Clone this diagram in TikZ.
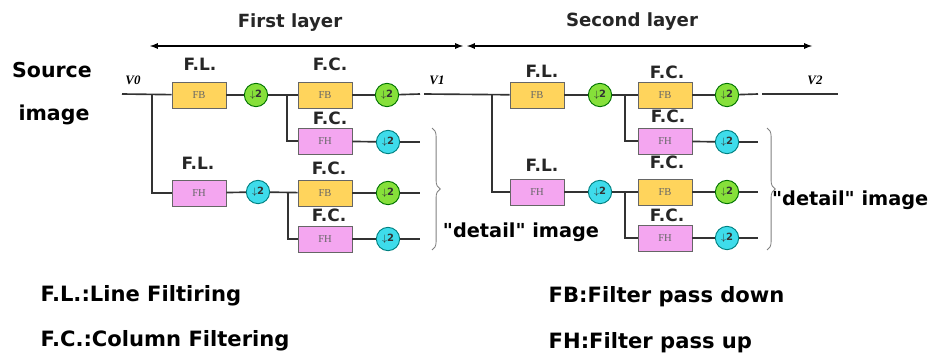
\documentclass[tikz,border=0pt]{standalone}
\usepackage{fontspec}
\setmainfont{DejaVu Sans}
\newfontfamily\boxfont{Liberation Serif}
\newfontfamily\qfont{DejaVu Sans}
\usetikzlibrary{decorations.pathreplacing}

\definecolor{fbfill}{HTML}{FFD45C}
\definecolor{fhfill}{HTML}{F4A6F0}
\definecolor{grnfill}{HTML}{86E03A}
\definecolor{cynfill}{HTML}{3EDCEB}
\definecolor{wire}{HTML}{333333}

\begin{document}
\begin{tikzpicture}[x=0.03cm, y=-0.03cm, line width=1.4pt,
  fb/.style={draw=gray!80!black, line width=0.8pt, fill=fbfill, minimum width=1.62cm,
    minimum height=0.78cm, inner sep=0pt, font=\boxfont\fontsize{9}{10}\selectfont, text=black!60},
  fh/.style={fb, fill=fhfill},
  dsg/.style={circle, draw=green!45!black, line width=0.8pt, fill=grnfill, minimum size=0.7cm,
    inner sep=0pt, font=\bfseries\fontsize{8.5}{9}\selectfont, text=black!80},
  dsc/.style={dsg, draw=teal, fill=cynfill},
  wl/.style={line width=1.4pt, draw=wire},
  lbl/.style={font=\bfseries\fontsize{14.5}{16}\selectfont, text=black!85},
  ttl/.style={font=\bfseries\fontsize{15.5}{17}\selectfont, text=black!85},
  vlbl/.style={font=\boxfont\bfseries\itshape\fontsize{11}{12}\selectfont},
  big/.style={font=\bfseries\fontsize{17.5}{19}\selectfont},
  det/.style={font=\qfont\bfseries\fontsize{16.5}{18}\selectfont},
  leg/.style={font=\bfseries\fontsize{18}{20}\selectfont, anchor=west}]
  \useasboundingbox (0,0) rectangle (935,358);

  % layer arrows
  \node[ttl] (t1) at (290,23) {First layer};
  \node[ttl] (t2) at (632,22) {Second layer};
  \coordinate (l1a) at (150,46); \coordinate (l1b) at (463,46);
  \coordinate (l2a) at (467,46); \coordinate (l2b) at (812,46);
  \draw[<->, >=latex, line width=1.3pt] (l1a) -- (l1b);
  \draw[<->, >=latex, line width=1.3pt] (l2a) -- (l2b);

  \node[big] (src) at (52,70) {Source};
  \node[big] (img) at (54,115) {image};

  % first layer
  \coordinate (v0) at (122,94);
  \coordinate (s1) at (152,94);
  \node[vlbl] (v0t) at (133,80) {V0};
  \node[fb] (fl1) at (199,95) {FB};
  \node[dsg] (d1) at (256,95) {$\downarrow$2};
  \node[fh] (fl2) at (199,193) {FH};
  \node[dsc] (d2) at (258,192) {$\downarrow$2};
  \coordinate (s2) at (287,94);
  \coordinate (s3) at (288,192);
  \node[fb] (fc1) at (325,95) {FB};
  \node[dsg] (d3) at (387,95) {$\downarrow$2};
  \node[fh] (fc2) at (325,141) {FH};
  \node[dsc] (d4) at (388,142) {$\downarrow$2};
  \node[fb] (fc3) at (325,193) {FB};
  \node[dsg] (d5) at (388,193) {$\downarrow$2};
  \node[fh] (fc4) at (325,239) {FH};
  \node[dsc] (d6) at (388,239) {$\downarrow$2};
  \coordinate (e3) at (420,94); \coordinate (e4) at (420,142);
  \coordinate (e5) at (420,193); \coordinate (e6) at (420,239);
  \node[vlbl] (v1t) at (437,80) {V1};
  \coordinate (m1) at (424,94);

  \node[lbl] (ll1) at (200,64) {F.L.};
  \node[lbl] (ll2) at (198,163) {F.L.};
  \node[lbl] (lc1) at (330,64) {F.C.};
  \node[lbl] (lc2) at (330,118) {F.C.};
  \node[lbl] (lc3) at (329,168) {F.C.};
  \node[lbl] (lc4) at (329,215) {F.C.};

  \draw[wl] (v0) -- (fl1);
  \draw[wl] (s1) |- (fl2);
  \draw[wl] (fl1) -- (d1);
  \draw[wl] (fl2) -- (d2);
  \draw[wl] (d1) -- (fc1);
  \draw[wl] (s2) |- (fc2);
  \draw[wl] (d2) -- (fc3);
  \draw[wl] (s3) |- (fc4);
  \draw[wl] (fc1) -- (d3);
  \draw[wl] (fc2) -- (d4);
  \draw[wl] (fc3) -- (d5);
  \draw[wl] (fc4) -- (d6);
  \draw[wl] (d3) -- (e3);
  \draw[wl] (d4) -- (e4);
  \draw[wl] (d5) -- (e5);
  \draw[wl] (d6) -- (e6);

  \draw[decorate, decoration={brace, amplitude=7pt}, gray, line width=0.7pt] (432,128) -- (432,250);
  \node[det] (det1) at (521,232) {"detail" image};

  % second layer
  \coordinate (s4) at (492,94);
  \node[fb] (fl3) at (537,95) {FB};
  \node[dsg] (d7) at (600,95) {$\downarrow$2};
  \node[fh] (fl4) at (537,192) {FH};
  \node[dsc] (d8) at (600,192) {$\downarrow$2};
  \coordinate (s5) at (625,94);
  \coordinate (s6) at (625,192);
  \node[fb] (fc5) at (665,95) {FB};
  \node[dsg] (d9) at (727,95) {$\downarrow$2};
  \node[fh] (fc6) at (665,141) {FH};
  \node[dsc] (d10) at (727,142) {$\downarrow$2};
  \node[fb] (fc7) at (665,192) {FB};
  \node[dsg] (d11) at (727,192) {$\downarrow$2};
  \node[fh] (fc8) at (665,238) {FH};
  \node[dsc] (d12) at (727,238) {$\downarrow$2};
  \coordinate (e9) at (758,94); \coordinate (e10) at (758,142);
  \coordinate (e11) at (758,192); \coordinate (e12) at (758,238);
  \coordinate (m2) at (762,94); \coordinate (v2) at (838,94);
  \node[vlbl] (v2t) at (815,80) {V2};

  \node[lbl] (ll3) at (542,71) {F.L.};
  \node[lbl] (ll4) at (542,165) {F.L.};
  \node[lbl] (lc5) at (667,72) {F.C.};
  \node[lbl] (lc6) at (668,116) {F.C.};
  \node[lbl] (lc7) at (667,162) {F.C.};
  \node[lbl] (lc8) at (667,215) {F.C.};

  \draw[wl] (m1) -- (fl3);
  \draw[wl] (s4) |- (fl4);
  \draw[wl] (fl3) -- (d7);
  \draw[wl] (fl4) -- (d8);
  \draw[wl] (d7) -- (fc5);
  \draw[wl] (s5) |- (fc6);
  \draw[wl] (d8) -- (fc7);
  \draw[wl] (s6) |- (fc8);
  \draw[wl] (fc5) -- (d9);
  \draw[wl] (fc6) -- (d10);
  \draw[wl] (fc7) -- (d11);
  \draw[wl] (fc8) -- (d12);
  \draw[wl] (d9) -- (e9);
  \draw[wl] (d10) -- (e10);
  \draw[wl] (d11) -- (e11);
  \draw[wl] (d12) -- (e12);
  \draw[wl] (m2) -- (v2);

  \draw[decorate, decoration={brace, amplitude=7pt}, gray, line width=0.7pt] (767,128) -- (767,250);
  \node[det, anchor=east] (det2) at (933,200) {"detail" image};

  % legend
  \node[leg] (lg1) at (36,296) {F.L.:Line Filtiring};
  \node[leg] (lg2) at (36,341) {F.C.:Column Filtering};
  \node[leg] (lg3) at (544,297) {FB:Filter pass down};
  \node[leg] (lg4) at (544,343) {FH:Filter pass up};
\end{tikzpicture}
\end{document}
